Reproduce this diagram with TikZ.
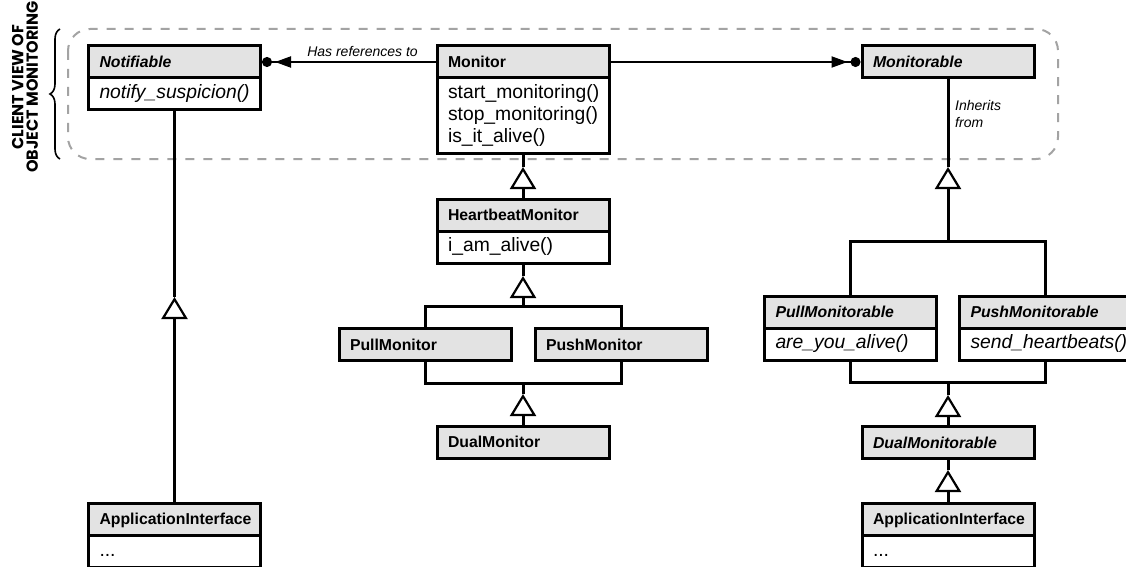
\documentclass[tikz,border=0pt]{standalone}
\usepackage{fontspec}
\setmainfont{Liberation Sans}
\newfontfamily\capsfont{Poppins}
\usetikzlibrary{arrows.meta,positioning,decorations.pathreplacing}
\definecolor{hdrgray}{gray}{0.89}
\definecolor{rimgray}{gray}{0.64}

\begin{document}
\begin{tikzpicture}[x=1pt,y=-1pt,line join=miter,
    hdr/.style={draw,line width=3pt,fill=hdrgray,outer sep=0pt,minimum height=32pt,
        text width=150pt,inner xsep=11pt,inner ysep=0pt,align=left,
        text height=11.6pt,text depth=0pt,font=\fontsize{15.8}{18}\selectfont\bfseries},
    abs/.style={hdr,font=\fontsize{15.8}{18}\selectfont\bfseries\itshape},
    ops/.style={draw,line width=3pt,fill=white,outer sep=0pt,minimum height=32pt,
        text width=150pt,inner xsep=11pt,inner ysep=0pt,align=left,
        font=\fontsize{19.3}{21.7}\selectfont},
    conn/.style={line width=3pt},
    inh/.style={conn,-{Triangle[open,line width=2.2pt,length=22pt,width=26pt]}},
    refs/.style={line width=2pt,shorten >=1.5pt,
        -{Triangle[length=16pt,width=11pt,sep=3pt]Circle[length=10pt]}},
    lbl/.style={inner sep=0pt,font=\fontsize{14}{16.7}\selectfont\itshape}]
    \path[use as bounding box,clip] (0,0) rectangle (1126,567);

    \draw[rimgray,line width=2pt,dash pattern=on 9pt off 9pt,rounded corners=22pt]
        (68,29) rectangle (1058,159);
    \draw[line width=1.6pt,decorate,decoration={brace,amplitude=10pt}] (60,159) -- (60,29);
    \node[rotate=90,align=center,inner sep=0pt,
        font=\capsfont\bfseries\fontsize{16}{14.5}\selectfont] (title) at (25,87)
        {CLIENT VIEW OF\\OBJECT MONITORING};

    \node[abs] (nf) at (174.5,62) {Notifiable};
    \node[ops,below=0pt of nf] (nf-ops) {\itshape notify\_suspicion()};
    \node[hdr] (mon) at (523,62) {Monitor};
    \node[ops,below=0pt of mon,minimum height=75pt] (mon-ops)
        {start\_monitoring()\\stop\_monitoring()\\is\_it\_alive()};
    \node[abs] (mtb) at (948,62) {Monitorable};

    \node[hdr] (hb) at (523,215) {HeartbeatMonitor};
    \node[ops,below=0pt of hb] (hb-ops) {i\_am\_alive()};
    \node[hdr] (pull) at (425,344.5) {PullMonitor};
    \node[hdr] (push) at (621,344.5) {PushMonitor};
    \node[hdr] (dual) at (523,442) {DualMonitor};

    \node[abs] (pullm) at (850.5,312) {PullMonitorable};
    \node[ops,below=0pt of pullm] (pullm-ops) {\itshape are\_you\_alive()};
    \node[abs] (pushm) at (1045.5,312) {PushMonitorable};
    \node[ops,below=0pt of pushm] (pushm-ops) {\itshape send\_heartbeats()};
    \node[abs] (dualm) at (948,442.5) {DualMonitorable};

    \node[hdr] (appL) at (174.5,519) {ApplicationInterface};
    \node[ops,below=0pt of appL] (appL-ops) {\vphantom{()}...};
    \node[hdr] (appR) at (948,519) {ApplicationInterface};
    \node[ops,below=0pt of appR] (appR-ops) {\vphantom{()}...};

    \coordinate (tL) at (174.5,297);
    \coordinate (t1) at (523,167);
    \coordinate (t2) at (523,276);
    \coordinate (b2) at (523,306);
    \coordinate (b3) at (523,383);
    \coordinate (t3) at (523,394);
    \coordinate (t4) at (948,167);
    \coordinate (b4) at (948,241);
    \coordinate (b5) at (948,382);
    \coordinate (t5) at (948,395);
    \coordinate (t6) at (948,470);

    \draw[refs] (mon.west) -- (nf.east);
    \draw[refs] (mon.east) -- (mtb.west);
    \node[lbl,anchor=base east] (has) at (418,57) {Has references to};
    \node[lbl,anchor=north west,align=left] (inhlbl) at (955,100) {Inherits\\from};

    \draw[conn] (nf-ops.south) -- (tL);
    \draw[conn] (mon-ops.south) -- (t1);
    \draw[conn] (hb-ops.south) -- (t2);
    \draw[conn] (pull.north) |- (b2) -| (push.north);
    \draw[conn] (pull.south) |- (b3) -| (push.south);
    \draw[conn] (b3) -- (t3);
    \draw[conn] (mtb.south) -- (t4);
    \draw[conn] (pullm.north) |- (b4) -| (pushm.north);
    \draw[conn] (pullm-ops.south) |- (b5) -| (pushm-ops.south);
    \draw[conn] (b5) -- (t5);
    \draw[conn] (dualm.south) -- (t6);
    \foreach \c/\t in {appL.north/tL,hb.north/t1,b2/t2,dual.north/t3,
                       b4/t4,dualm.north/t5,appR.north/t6}
        \draw[inh] (\c) -- (\t);
\end{tikzpicture}
\end{document}
